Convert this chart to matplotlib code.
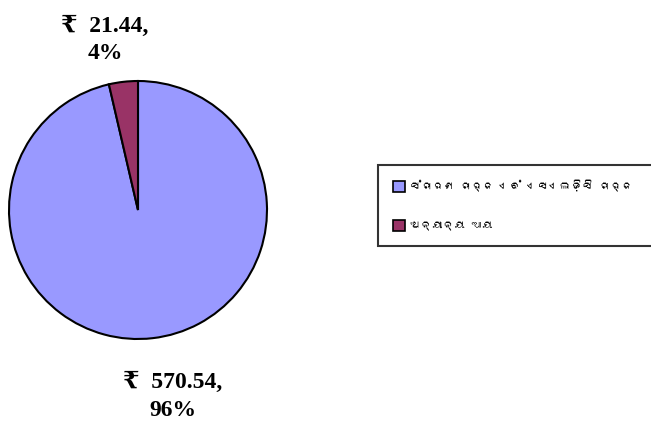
import matplotlib
matplotlib.use("Agg")
import matplotlib.pyplot as plt
from matplotlib import font_manager
from matplotlib.ft2font import FT2Font

categories = ["ସଂଚାରଣ ଚାର୍ଜ ଏବଂ ଏସଏଲଡ଼ିସି ଚାର୍ଜ", "ଅନ୍ୟାନ୍ୟ ଆୟ"]
values = [570.54, 21.44]
colors = ["#9999FF", "#993366"]

# look for any installed family that covers Odia script
odia_fams = []
for fe in font_manager.fontManager.ttflist:
    try:
        cm = FT2Font(fe.fname).get_charmap()
        if 0x0B05 in cm and fe.name not in odia_fams:
            odia_fams.append(fe.name)
    except Exception:
        pass
legend_fams = odia_fams + ["Noto Sans", "DejaVu Sans"]

fig = plt.figure(figsize=(6.51, 4.23), dpi=100)
W, H = 651, 423
cx, cy, r = 138, 210, 129
ax = fig.add_axes([(cx - r) / W, (H - cy - r) / H, 2 * r / W, 2 * r / H])

wedges, _ = ax.pie(values, colors=colors, startangle=90, counterclock=False,
                   wedgeprops=dict(edgecolor="black", linewidth=1.5))
for w in wedges:
    w.set_clip_on(False)
ax.set_xlim(-1, 1)
ax.set_ylim(-1, 1)
ax.set_aspect("equal")
ax.axis("off")

total = sum(values)
label_pos = [(0.27, -1.445), (-0.256, 1.318)]
for v, (x, y) in zip(values, label_pos):
    ax.text(x, y, f"₹  {v:.2f},\n{round(v / total * 100):.0f}%",
            ha="center", va="center", fontsize=17, fontweight="bold",
            family=["Liberation Serif", "DejaVu Serif", "DejaVu Sans"],
            linespacing=1.4, clip_on=False)

leg = fig.legend(wedges, categories, loc="upper left",
                 bbox_to_anchor=(378 / W, 1 - 165 / H, 290 / W, 0),
                 mode="expand", borderaxespad=0,
                 frameon=True, fancybox=False, shadow=False,
                 prop=dict(family=legend_fams, size=8),
                 labelspacing=2.5, handlelength=1.1, handleheight=1.1,
                 handletextpad=0.4, borderpad=1.35)
leg.get_frame().set_edgecolor("black")
leg.get_frame().set_linewidth(1.5)
for h in leg.legend_handles:
    h.set_edgecolor("black")
    h.set_linewidth(1.2)

fig.savefig("out.png", dpi=100)
